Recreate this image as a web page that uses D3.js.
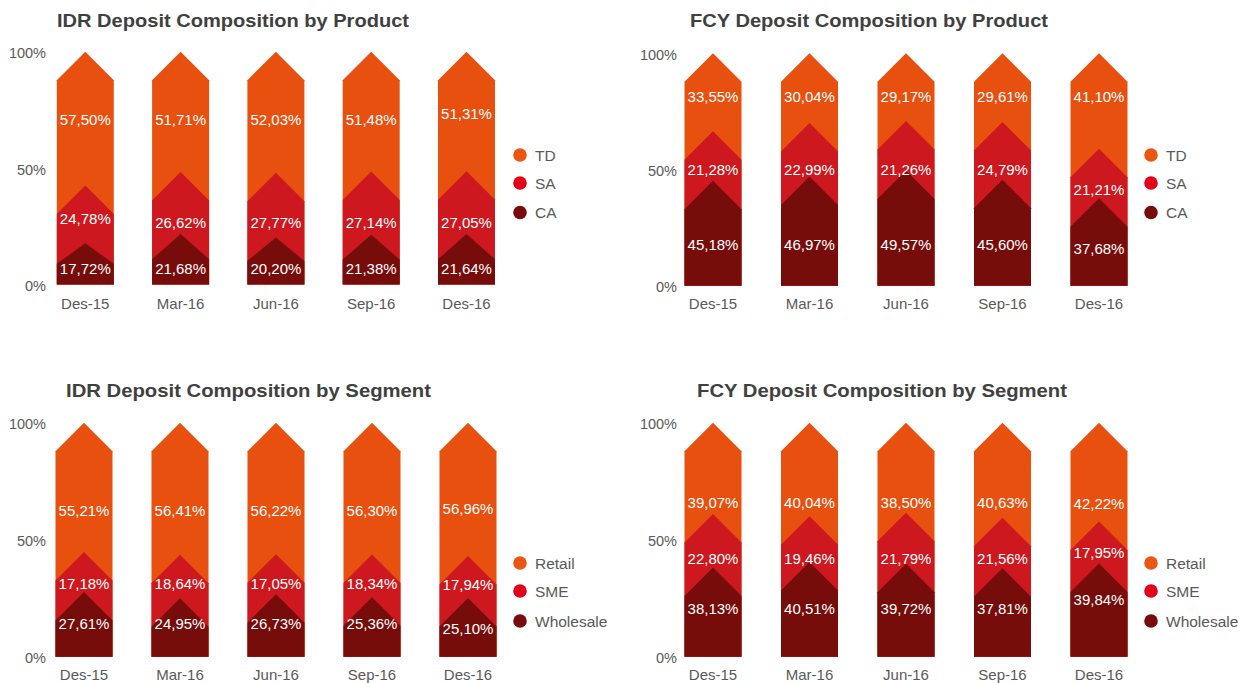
<!DOCTYPE html>
<html>
<head>
<meta charset="utf-8">
<script src="https://cdn.jsdelivr.net/npm/d3@7"></script>
<style>
  html, body { margin: 0; padding: 0; background: #ffffff; }
  svg { display: block; }
  text { font-family: "Liberation Sans", Arial, sans-serif; }
</style>
</head>
<body>
<svg id="chart" width="1242" height="683"></svg>
<script>
// ---- data ----
const categories = ["Des-15", "Mar-16", "Jun-16", "Sep-16", "Des-16"];
const productSeries = ["TD", "SA", "CA"];
const segmentSeries = ["Retail", "SME", "Wholesale"];
const yTickValues = [0, 50, 100];

// IDR deposit by product (%)
const idrProductTD = [57.50, 51.71, 52.03, 51.48, 51.31];
const idrProductSA = [24.78, 26.62, 27.77, 27.14, 27.05];
const idrProductCA = [17.72, 21.68, 20.20, 21.38, 21.64];

// FCY deposit by product (%)
const fcyProductTD = [33.55, 30.04, 29.17, 29.61, 41.10];
const fcyProductSA = [21.28, 22.99, 21.26, 24.79, 21.21];
const fcyProductCA = [45.18, 46.97, 49.57, 45.60, 37.68];

// IDR deposit by segment (%)
const idrSegmentRetail = [55.21, 56.41, 56.22, 56.30, 56.96];
const idrSegmentSME = [17.18, 18.64, 17.05, 18.34, 17.94];
const idrSegmentWholesale = [27.61, 24.95, 26.73, 25.36, 25.10];

// FCY deposit by segment (%)
const fcySegmentRetail = [39.07, 40.04, 38.50, 40.63, 42.22];
const fcySegmentSME = [22.80, 19.46, 21.79, 21.56, 17.95];
const fcySegmentWholesale = [38.13, 40.51, 39.72, 37.81, 39.84];

// value-label anchor levels (in axis %), top / middle / bottom layer
const idrProductLabelAt = [[70.9, 70.9, 70.9, 70.9, 73.6], [28.4, 26.5, 26.5, 26.5, 26.5], [6.9, 6.9, 6.9, 6.9, 6.8]];
const fcyProductLabelAt = [[81.3, 81.3, 81.3, 81.3, 81.3], [50.1, 50.1, 50.1, 50.1, 41.2], [17.8, 17.8, 17.8, 17.8, 16.1]];
const idrSegmentLabelAt = [[62.3, 62.3, 62.3, 62.3, 63.4], [31.2, 31.2, 31.2, 31.2, 30.6], [14.0, 14.0, 14.0, 14.0, 12.1]];
const fcySegmentLabelAt = [[66.0, 66.0, 66.0, 66.0, 65.6], [42.1, 42.1, 42.1, 42.1, 44.4], [20.7, 20.7, 20.7, 20.7, 24.2]];

// ---- styling ----
const barColors = ["#E8500F", "#CC181E", "#760D0B"];     // top, middle, bottom layer
const legendColors = ["#EA5614", "#E2001A", "#780C0C"];
const textGray = "#595959";
const titleGray = "#404040";
const barWidth = 57;

const locale = d3.formatLocale({ decimal: ",", thousands: ".", grouping: [3], currency: ["", ""] });
const fmtPct = locale.format(".2f");
const fmtTick = d => d + "%";

const panels = [
  { title: "IDR Deposit Composition by Product", series: productSeries,
    values: [idrProductTD, idrProductSA, idrProductCA], labelAt: idrProductLabelAt,
    titleX: 57, titleWidth: 352, titleY: 27, xRange: [85.3, 466.5], yRange: [284.5, 51.7],
    tickX: 46, catY: 304, legendX: 520, legendY: [155, 183, 212.5] },
  { title: "FCY Deposit Composition by Product", series: productSeries,
    values: [fcyProductTD, fcyProductSA, fcyProductCA], labelAt: fcyProductLabelAt,
    titleX: 690, titleWidth: 358, titleY: 27, xRange: [713, 1099], yRange: [285.7, 53.3],
    tickX: 677, catY: 304, legendX: 1151, legendY: [155, 183, 212.5] },
  { title: "IDR Deposit Composition by Segment", series: segmentSeries,
    values: [idrSegmentRetail, idrSegmentSME, idrSegmentWholesale], labelAt: idrSegmentLabelAt,
    titleX: 66, titleWidth: 365, titleY: 397, xRange: [84, 468], yRange: [656.7, 422.7],
    tickX: 46, catY: 675, legendX: 520, legendY: [563, 591, 621] },
  { title: "FCY Deposit Composition by Segment", series: segmentSeries,
    values: [fcySegmentRetail, fcySegmentSME, fcySegmentWholesale], labelAt: fcySegmentLabelAt,
    titleX: 697, titleWidth: 370, titleY: 397, xRange: [713, 1099], yRange: [656.7, 422.7],
    tickX: 677, catY: 675, legendX: 1151, legendY: [563, 591, 621] }
];

const svg = d3.select("#chart");

// arrow-shaped column: flat base at y(0), pointed tip at y(top)
function arrowPath(cx, y0, yTop, w) {
  const h = y0 - yTop;
  const head = 0.5 * Math.min(w, h);
  const p = d3.path();
  p.moveTo(cx - w / 2, y0);
  p.lineTo(cx - w / 2, yTop + head);
  p.lineTo(cx, yTop);
  p.lineTo(cx + w / 2, yTop + head);
  p.lineTo(cx + w / 2, y0);
  p.closePath();
  return p.toString();
}

panels.forEach(panel => {
  const g = svg.append("g");
  const x = d3.scalePoint().domain(categories).range(panel.xRange);
  const y = d3.scaleLinear().domain([0, 100]).range(panel.yRange);

  // title
  g.append("text")
    .attr("x", panel.titleX).attr("y", panel.titleY)
    .attr("font-size", 19).attr("font-weight", "bold")
    .attr("textLength", panel.titleWidth).attr("lengthAdjust", "spacingAndGlyphs")
    .attr("fill", titleGray)
    .text(panel.title);

  // y axis labels (no axis line)
  const yAxis = d3.axisLeft(y).tickValues(yTickValues).tickFormat(fmtTick).tickSize(0).tickPadding(0);
  const ya = g.append("g").attr("transform", `translate(${panel.tickX},0)`).call(yAxis);
  ya.select(".domain").remove();
  ya.selectAll("text")
    .attr("font-size", 14.5).attr("fill", textGray)
    .attr("font-family", "'Liberation Sans', Arial, sans-serif")
    .attr("dy", "0.42em");

  // layers stacked bottom-up: bottom series is last in the list
  const top = panel.values[0], mid = panel.values[1], bot = panel.values[2];
  const cumBottom = bot.map(v => v);
  const cumMiddle = bot.map((v, i) => v + mid[i]);
  const cumTop = bot.map((v, i) => v + mid[i] + top[i]);
  const cums = [cumTop, cumMiddle, cumBottom];

  // draw the tallest arrow first so each lower layer overlaps it
  cums.forEach((cum, li) => {
    g.append("g").selectAll("path")
      .data(categories)
      .join("path")
      .attr("d", (c, i) => arrowPath(x(c), y(0), y(cum[i]), barWidth))
      .attr("fill", barColors[li]);
  });

  // value labels
  panel.values.forEach((vals, li) => {
    g.append("g").selectAll("text")
      .data(categories)
      .join("text")
      .attr("x", c => x(c))
      .attr("y", (c, i) => y(panel.labelAt[li][i]))
      .attr("dy", "0.36em")
      .attr("text-anchor", "middle")
      .attr("font-size", 15)
      .attr("fill", "#ffffff")
      .text((c, i) => fmtPct(vals[i]) + "%");
  });

  // category labels
  g.append("g").selectAll("text")
    .data(categories)
    .join("text")
    .attr("x", c => x(c))
    .attr("y", panel.catY)
    .attr("dy", "0.36em")
    .attr("text-anchor", "middle")
    .attr("font-size", 15)
    .attr("fill", textGray)
    .text(c => c);

  // legend
  const lg = g.append("g").selectAll("g")
    .data(panel.series)
    .join("g")
    .attr("transform", (s, i) => `translate(${panel.legendX},${panel.legendY[i]})`);
  lg.append("circle").attr("r", 6.8).attr("fill", (s, i) => legendColors[i]);
  lg.append("text")
    .attr("x", 15).attr("dy", "0.36em")
    .attr("font-size", 15.5).attr("fill", textGray)
    .text(s => s);
});
</script>
</body>
</html>
